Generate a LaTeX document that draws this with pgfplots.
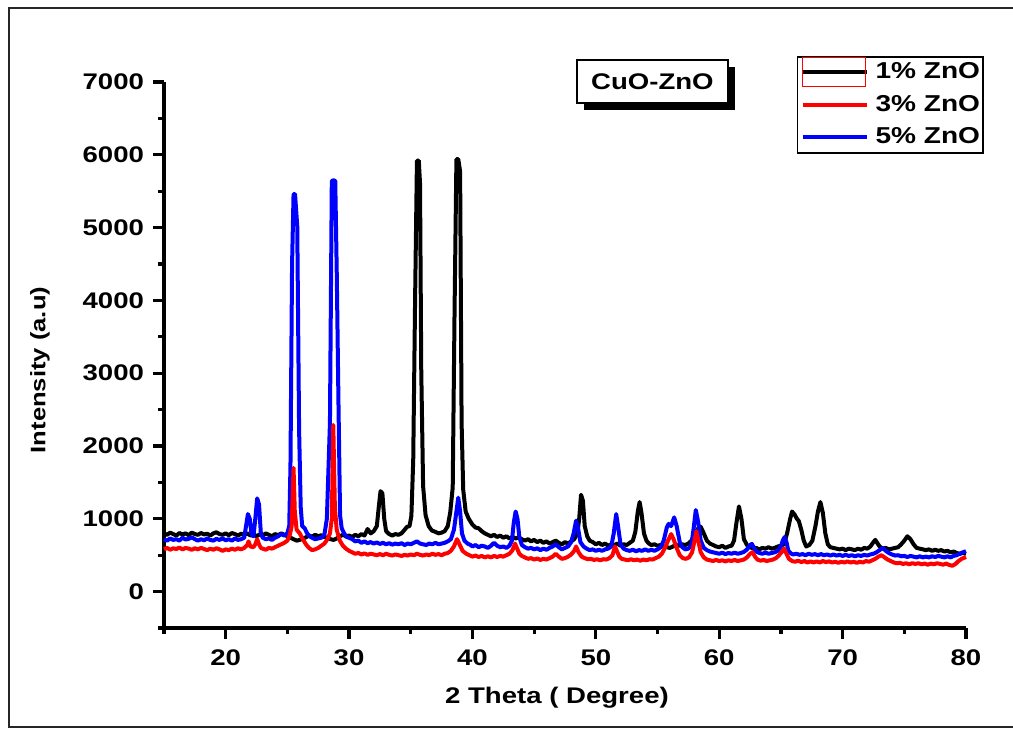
\documentclass[border=0pt]{standalone}
\usepackage{fontspec}
\setmainfont{Liberation Sans}[FakeStretch=1.22]
\usepackage{pgfplots}
\pgfplotsset{compat=1.18}
\usetikzlibrary{shadows}

\begin{document}
\begin{tikzpicture}
\useasboundingbox (0pt,0pt) rectangle (506.5pt,364.5pt);
\fill[white] (0pt,0pt) rectangle (506.5pt,364.5pt);
\draw[line width=1pt, black!85] (507pt,360.5pt) -- (4.5pt,360.5pt) -- (4.5pt,1pt) -- (507pt,1pt);
\begin{axis}[
  at={(82pt,50.5pt)}, anchor=south west,
  scale only axis, width=401pt, height=273pt,
  xmin=15, xmax=80, ymin=-500, ymax=7000,
  axis x line*=bottom, axis y line*=left,
  axis line style={line width=1.8pt},
  clip=false,
  xtick={20,30,...,80}, minor xtick={15,25,...,75},
  ytick={0,1000,...,7000}, minor ytick={-500,500,...,6500},
  tick align=outside,
  major tick length=5.5pt, minor tick length=3pt,
  every tick/.style={line width=1.6pt, black},
  ticklabel style={font=\bfseries\fontsize{11.3}{12}\selectfont},
  /pgf/number format/assume math mode=true,
  /pgf/number format/set thousands separator={},
  yticklabel style={xshift=-1pt},
  xticklabel style={yshift=-2pt},
  xlabel={2 Theta ( Degree)},
  xlabel style={font=\bfseries\fontsize{11.3}{12}\selectfont, at={(axis description cs:0.49,0)}, anchor=north, yshift=-26pt},
  ylabel={Intensity (a.u)},
  ylabel style={font=\bfseries\fontsize{10.5}{11}\selectfont, at={(axis description cs:0,0.4725)}, anchor=center, yshift=62pt},
  legend style={at={(rel axis cs:0.789,1.0476)}, anchor=north west, draw=black, line width=0.8pt,
    font=\bfseries\fontsize{11.5}{12}\selectfont, inner xsep=1.5pt, inner ysep=2pt, row sep=4.75pt,
    nodes={inner sep=0pt, text height=9pt, text depth=2.5pt}, column sep=3.5pt},
  legend cell align=left,
  legend image code/.code={\draw[#1, line width=2pt] (0pt,0pt) -- (32pt,0pt);},
  every axis plot/.append style={line width=2pt, line join=round, mark=none},
]
\addplot[black] coordinates {
(15,800)(15.25,780)(15.5,810)(15.75,790)(16,770)(16.25,805)(16.5,785)(16.75,800)(17,775)(17.25,810)(17.5,790)(17.75,780)(18,805)(18.25,785)(18.5,795)(18.75,770)(19,800)(19.25,815)(19.5,790)(19.75,780)(20,800)(20.25,775)(20.5,805)(20.75,790)(21,770)(21.25,795)(21.5,780)(21.75,800)(22,770)(22.25,790)(22.5,760)(22.75,785)(23,770)(23.25,800)(23.5,780)(23.75,760)(24,790)(24.25,775)(24.5,800)(24.75,780)(25,760)(25.25,740)(25.5,720)(25.75,700)(26,710)(26.25,730)(26.5,745)(26.75,770)(27,755)(27.25,780)(27.5,760)(27.75,775)(28,750)(28.25,740)(28.5,720)(28.75,710)(29,730)(29.25,760)(29.5,780)(29.75,760)(30,770)(30.25,750)(30.5,780)(30.75,760)(31,790)(31.25,770)(31.5,860)(31.75,800)(32,830)(32.25,900)(32.4,1150)(32.55,1380)(32.7,1350)(32.85,1000)(33,830)(33.25,790)(33.5,770)(33.75,790)(34,780)(34.25,800)(34.5,850)(34.7,890)(34.9,900)(35.05,1040)(35.2,1810)(35.35,4000)(35.5,5920)(35.65,5920)(35.75,5610)(35.85,3040)(36,1450)(36.2,1050)(36.45,900)(36.7,840)(37,820)(37.25,800)(37.5,810)(37.75,830)(38,900)(38.2,1090)(38.4,1430)(38.55,3860)(38.7,5940)(38.85,5940)(39,5770)(39.12,2320)(39.25,1400)(39.45,1100)(39.7,1000)(40,920)(40.25,880)(40.5,870)(40.75,830)(41,800)(41.25,780)(41.5,760)(41.75,780)(42,750)(42.25,770)(42.5,740)(42.75,760)(43,730)(43.25,750)(43.5,730)(43.75,745)(44,720)(44.25,700)(44.5,720)(44.75,690)(45,710)(45.25,680)(45.5,700)(45.75,670)(46,690)(46.25,660)(46.5,680)(46.75,700)(47,670)(47.25,650)(47.5,680)(47.75,660)(48,690)(48.25,720)(48.5,800)(48.65,1000)(48.8,1330)(48.95,1250)(49.1,900)(49.3,760)(49.5,700)(49.75,680)(50,650)(50.25,670)(50.5,640)(50.75,660)(51,630)(51.25,650)(51.5,640)(51.75,660)(52,630)(52.25,650)(52.5,640)(52.75,670)(53,700)(53.2,820)(53.4,1100)(53.55,1230)(53.7,1080)(53.9,800)(54.1,700)(54.3,660)(54.5,640)(54.75,650)(55,630)(55.25,640)(55.5,620)(55.75,610)(56,600)(56.25,620)(56.5,640)(56.75,630)(57,650)(57.25,640)(57.5,660)(57.75,700)(58,780)(58.25,860)(58.5,890)(58.75,800)(59,700)(59.25,660)(59.5,640)(59.75,620)(60,610)(60.25,630)(60.5,600)(60.75,620)(61,630)(61.2,700)(61.4,950)(61.6,1170)(61.8,1000)(62,720)(62.25,640)(62.5,610)(62.75,590)(63,600)(63.25,580)(63.5,600)(63.75,590)(64,610)(64.25,590)(64.5,600)(64.75,620)(65,630)(65.25,650)(65.5,800)(65.75,1000)(65.9,1100)(66.1,1060)(66.3,1000)(66.45,970)(66.65,850)(66.85,700)(67.05,620)(67.3,640)(67.55,700)(67.8,900)(68,1100)(68.2,1230)(68.4,1080)(68.6,800)(68.8,650)(69,610)(69.25,600)(69.5,590)(69.75,580)(70,590)(70.25,570)(70.5,590)(70.75,580)(71,570)(71.25,590)(71.5,575)(71.75,600)(72,590)(72.25,620)(72.5,680)(72.65,710)(72.8,670)(73,620)(73.25,590)(73.5,600)(73.75,580)(74,590)(74.25,600)(74.5,610)(74.75,650)(75,700)(75.25,760)(75.5,720)(75.75,650)(76,600)(76.25,590)(76.5,580)(76.75,570)(77,580)(77.25,560)(77.5,575)(77.75,560)(78,570)(78.25,550)(78.5,560)(78.75,540)(79,550)(79.25,530)(79.5,520)(79.75,530)(80,520)
};
\addlegendentry{1\% ZnO}
\addplot[blue, forget plot] coordinates {
(15,720)(15.25,700)(15.5,730)(15.75,710)(16,720)(16.25,700)(16.5,740)(16.75,715)(17,725)(17.25,745)(17.5,720)(17.75,700)(18,720)(18.25,705)(18.5,730)(18.75,710)(19,700)(19.25,725)(19.5,710)(19.75,730)(20,705)(20.25,720)(20.5,700)(20.75,730)(21,710)(21.25,720)(21.5,740)(21.65,900)(21.8,1065)(21.95,1000)(22.1,780)(22.25,760)(22.4,1000)(22.55,1280)(22.7,1200)(22.85,800)(23,740)(23.25,720)(23.5,730)(23.75,710)(24,740)(24.25,760)(24.5,790)(24.75,770)(25,800)(25.15,900)(25.25,1720)(25.38,4500)(25.5,5460)(25.62,5460)(25.8,5020)(25.95,2220)(26.08,1160)(26.2,900)(26.4,870)(26.6,800)(26.8,760)(27,740)(27.25,720)(27.5,730)(27.75,740)(28,780)(28.2,1000)(28.45,2320)(28.6,5640)(28.75,5650)(28.88,5640)(29,4400)(29.14,2600)(29.27,1050)(29.4,870)(29.6,800)(29.8,750)(30,740)(30.25,720)(30.5,690)(30.75,700)(31,670)(31.25,690)(31.5,665)(31.75,680)(32,660)(32.25,675)(32.5,655)(32.75,670)(33,650)(33.25,665)(33.5,645)(33.75,660)(34,650)(34.25,665)(34.5,640)(34.75,660)(35,650)(35.25,670)(35.5,690)(35.75,660)(36,650)(36.25,640)(36.5,660)(36.75,650)(37,670)(37.25,650)(37.5,660)(37.75,670)(38,690)(38.25,720)(38.5,850)(38.7,1100)(38.85,1290)(39,1100)(39.15,800)(39.35,700)(39.6,660)(39.85,640)(40,620)(40.25,640)(40.5,610)(40.75,630)(41,620)(41.25,600)(41.5,630)(41.75,670)(42,630)(42.25,610)(42.5,620)(42.75,600)(43,630)(43.2,700)(43.35,950)(43.5,1100)(43.65,1000)(43.8,750)(44,640)(44.25,610)(44.5,590)(44.75,600)(45,580)(45.25,595)(45.5,570)(45.75,590)(46,575)(46.25,600)(46.5,620)(46.75,650)(47,610)(47.25,580)(47.5,600)(47.75,620)(48,680)(48.2,800)(48.4,975)(48.55,880)(48.75,680)(49,620)(49.25,590)(49.5,570)(49.75,580)(50,560)(50.25,575)(50.5,560)(50.75,580)(51,590)(51.25,620)(51.45,800)(51.65,1065)(51.8,900)(52,650)(52.25,590)(52.5,570)(52.75,560)(53,575)(53.25,555)(53.5,570)(53.75,560)(54,580)(54.25,560)(54.5,575)(54.75,560)(55,580)(55.25,610)(55.5,700)(55.75,880)(55.9,930)(56.1,900)(56.35,1020)(56.55,900)(56.8,680)(57,610)(57.25,580)(57.5,590)(57.75,640)(57.95,900)(58.1,1120)(58.3,950)(58.5,700)(58.75,600)(59,570)(59.25,550)(59.5,540)(59.75,530)(60,520)(60.25,535)(60.5,515)(60.75,530)(61,520)(61.25,535)(61.5,520)(61.75,530)(62,545)(62.25,580)(62.5,640)(62.65,655)(62.85,590)(63,550)(63.25,530)(63.5,520)(63.75,535)(64,520)(64.25,530)(64.5,540)(64.75,560)(65,620)(65.15,700)(65.3,750)(65.45,680)(65.6,560)(65.85,520)(66,510)(66.25,520)(66.5,505)(66.75,515)(67,500)(67.25,520)(67.5,505)(67.75,515)(68,500)(68.25,515)(68.5,500)(68.75,510)(69,495)(69.25,510)(69.5,495)(69.75,505)(70,490)(70.25,505)(70.5,490)(70.75,500)(71,485)(71.25,500)(71.5,490)(71.75,505)(72,495)(72.25,510)(72.5,520)(72.75,540)(73,570)(73.25,600)(73.5,560)(73.75,530)(74,510)(74.25,495)(74.5,500)(74.75,485)(75,490)(75.25,475)(75.5,490)(75.75,480)(76,470)(76.25,485)(76.5,470)(76.75,480)(77,470)(77.25,485)(77.5,475)(77.75,490)(78,480)(78.25,470)(78.5,485)(78.75,470)(79,490)(79.25,500)(79.5,520)(79.75,540)(80,555)
};
\addplot[red, forget plot] coordinates {
(15,580)(15.25,600)(15.5,575)(15.75,595)(16,585)(16.25,605)(16.5,580)(16.75,600)(17,590)(17.25,575)(17.5,595)(17.75,580)(18,600)(18.25,585)(18.5,570)(18.75,590)(19,575)(19.25,595)(19.5,580)(19.75,560)(20,580)(20.25,570)(20.5,590)(20.75,575)(21,595)(21.25,580)(21.5,600)(21.75,640)(21.85,690)(22,620)(22.25,610)(22.4,650)(22.55,720)(22.7,650)(22.85,600)(23,590)(23.25,575)(23.5,600)(23.75,590)(24,610)(24.25,630)(24.5,650)(24.75,670)(25,700)(25.2,780)(25.35,900)(25.5,1700)(25.6,1100)(25.75,850)(26,800)(26.25,720)(26.5,650)(26.75,600)(27,570)(27.25,580)(27.5,600)(27.75,630)(28,660)(28.25,720)(28.45,800)(28.6,1000)(28.72,2290)(28.85,1150)(29,850)(29.25,700)(29.5,630)(29.75,590)(30,560)(30.25,540)(30.5,520)(30.75,530)(31,510)(31.25,525)(31.5,505)(31.75,520)(32,510)(32.25,500)(32.5,515)(32.75,500)(33,520)(33.25,505)(33.5,495)(33.75,510)(34,500)(34.25,490)(34.5,505)(34.75,495)(35,510)(35.25,500)(35.5,520)(35.75,505)(36,495)(36.25,510)(36.5,500)(36.75,520)(37,505)(37.25,515)(37.5,500)(37.75,520)(38,530)(38.25,560)(38.5,620)(38.75,720)(38.95,650)(39.2,560)(39.5,520)(39.75,500)(40,480)(40.25,495)(40.5,475)(40.75,490)(41,470)(41.25,485)(41.5,470)(41.75,490)(42,475)(42.25,490)(42.5,480)(42.75,500)(43,520)(43.25,570)(43.45,660)(43.6,600)(43.8,520)(44,490)(44.25,470)(44.5,450)(44.75,460)(45,440)(45.25,455)(45.5,435)(45.75,450)(46,440)(46.25,460)(46.5,480)(46.75,520)(47,480)(47.25,450)(47.5,460)(47.75,480)(48,510)(48.25,560)(48.4,620)(48.6,540)(48.85,480)(49.1,460)(49.35,445)(49.6,450)(49.85,435)(50.1,445)(50.35,430)(50.6,445)(50.85,440)(51.1,460)(51.35,500)(51.55,620)(51.7,560)(51.9,480)(52.1,450)(52.35,440)(52.6,430)(52.85,445)(53.1,430)(53.35,440)(53.6,425)(53.85,440)(54.1,430)(54.35,445)(54.6,440)(54.85,460)(55.1,480)(55.35,520)(55.6,600)(55.85,700)(56.1,790)(56.3,720)(56.55,600)(56.8,500)(57.05,460)(57.3,450)(57.55,470)(57.8,540)(58,700)(58.15,830)(58.3,700)(58.5,540)(58.75,470)(59,440)(59.25,430)(59.5,420)(59.75,435)(60,420)(60.25,430)(60.5,415)(60.75,430)(61,420)(61.25,435)(61.5,420)(61.75,430)(62,440)(62.25,470)(62.5,520)(62.7,540)(62.9,480)(63.1,440)(63.35,425)(63.6,435)(63.85,420)(64.1,430)(64.35,440)(64.6,460)(64.85,500)(65.05,540)(65.25,590)(65.45,520)(65.65,450)(65.9,420)(66.15,410)(66.4,425)(66.65,405)(66.9,420)(67.15,400)(67.4,415)(67.65,400)(67.9,415)(68.15,400)(68.4,420)(68.65,405)(68.9,415)(69.15,400)(69.4,410)(69.65,395)(69.9,410)(70.15,400)(70.4,415)(70.65,400)(70.9,410)(71.15,395)(71.4,410)(71.65,400)(71.9,420)(72.15,410)(72.4,430)(72.65,450)(72.9,480)(73.15,500)(73.4,470)(73.65,440)(73.9,420)(74.15,400)(74.4,390)(74.65,395)(74.9,380)(75.15,390)(75.4,375)(75.65,390)(75.9,380)(76.15,390)(76.4,375)(76.65,385)(76.9,370)(77.15,385)(77.4,375)(77.65,390)(77.9,380)(78.15,370)(78.4,385)(78.65,365)(78.9,355)(79.15,380)(79.4,420)(79.65,450)(80,475)
};
\addlegendimage{red}
\addlegendentry{3\% ZnO}
\addlegendimage{blue}
\addlegendentry{5\% ZnO}
\node[draw=black, line width=0.8pt, fill=white, minimum width=75.5pt, minimum height=21.5pt,
  drop shadow={shadow xshift=3.5pt, shadow yshift=-3.5pt, fill=black, opacity=1},
  font=\bfseries\fontsize{11.3}{12}\selectfont] at (rel axis cs:0.609,1.001) {CuO-ZnO};
\end{axis}
\draw[red, line width=0.5pt] (401pt,335.5pt) rectangle (432.5pt,321pt);
\end{tikzpicture}
\end{document}
